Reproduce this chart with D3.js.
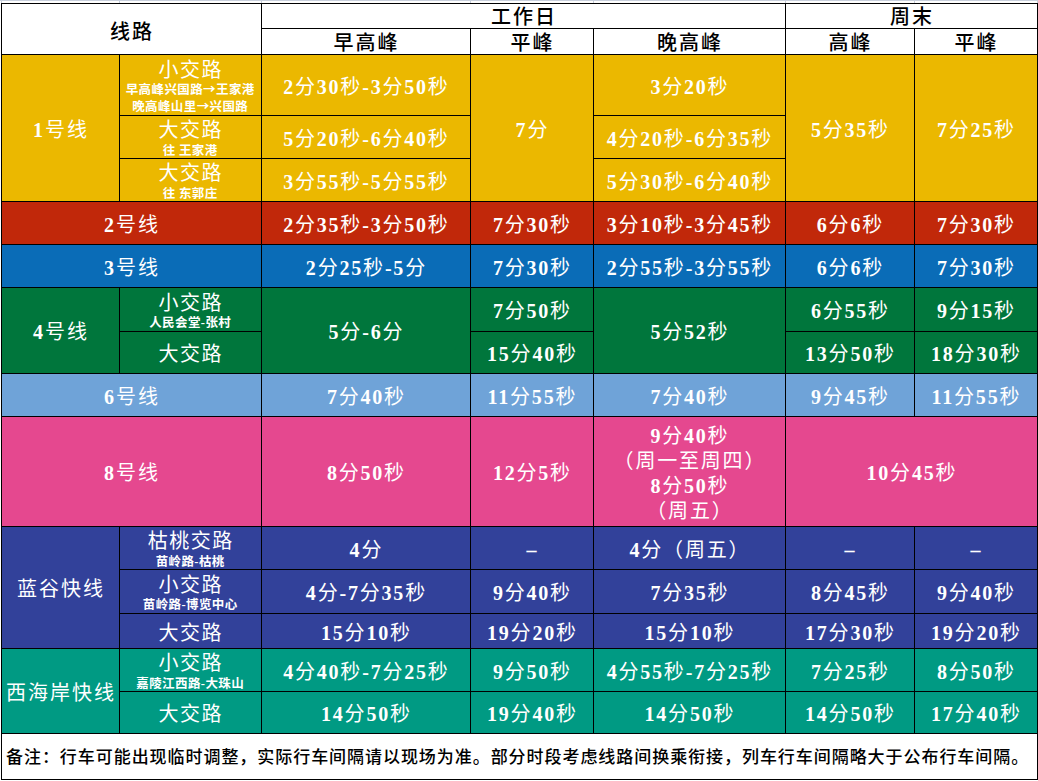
<!DOCTYPE html>
<html><head><meta charset="utf-8">
<script src="https://cdn.jsdelivr.net/npm/d3@7"></script>
<style>
html,body{margin:0;padding:0;background:#fff;}
svg{display:block;}
</style></head><body>
<svg id="chart" width="1038" height="781"></svg>
<script>
// ---------- DATA ----------
const UP = "^", LEFT = "<";   // merged with cell above / cell to the left
const cornerHeader = "线路";
const groupHeaders = ["工作日", "周末"];
const periodHeaders = ["早高峰", "平峰", "晚高峰", "高峰", "平峰"];
const periodGroup = [0, 0, 0, 1, 1];
const lineNames = ["1号线", "2号线", "3号线", "4号线", "6号线", "8号线", "蓝谷快线", "西海岸快线"];
const rowLine = ["1号线", "1号线", "1号线", "2号线", "3号线", "4号线", "4号线", "6号线", "8号线",
  "蓝谷快线", "蓝谷快线", "蓝谷快线", "西海岸快线", "西海岸快线"];
const routeName = ["小交路", "大交路", "大交路", null, null, "小交路", "大交路", null, null,
  "枯桃交路", "小交路", "大交路", "小交路", "大交路"];
const routeNote = [["早高峰兴国路→王家港", "晚高峰山里→兴国路"], ["往 王家港"], ["往 东郭庄"], [], [],
  ["人民会堂-张村"], [], [], [], ["苗岭路-枯桃"], ["苗岭路-博览中心"], [], ["嘉陵江西路-大珠山"], []];
const weekdayMorning = ["2分30秒-3分50秒", "5分20秒-6分40秒", "3分55秒-5分55秒", "2分35秒-3分50秒",
  "2分25秒-5分", "5分-6分", UP, "7分40秒", "8分50秒", "4分", "4分-7分35秒", "15分10秒",
  "4分40秒-7分25秒", "14分50秒"];
const weekdayOffpeak = ["7分", UP, UP, "7分30秒", "7分30秒", "7分50秒", "15分40秒", "11分55秒",
  "12分5秒", "–", "9分40秒", "19分20秒", "9分50秒", "19分40秒"];
const weekdayEvening = ["3分20秒", "4分20秒-6分35秒", "5分30秒-6分40秒", "3分10秒-3分45秒",
  "2分55秒-3分55秒", "5分52秒", UP, "7分40秒", "9分40秒\n（周一至周四）\n8分50秒\n（周五）",
  "4分（周五）", "7分35秒", "15分10秒", "4分55秒-7分25秒", "14分50秒"];
const weekendPeak = ["5分35秒", UP, UP, "6分6秒", "6分6秒", "6分55秒", "13分50秒", "9分45秒",
  "10分45秒", "–", "8分45秒", "17分30秒", "7分25秒", "14分50秒"];
const weekendOffpeak = ["7分25秒", UP, UP, "7分30秒", "7分30秒", "9分15秒", "18分30秒", "11分55秒",
  LEFT, "–", "9分40秒", "19分20秒", "8分50秒", "17分40秒"];
const footNote = "备注：行车可能出现临时调整，实际行车间隔请以现场为准。部分时段考虑线路间换乘衔接，列车行车间隔略大于公布行车间隔。";

// ---------- LAYOUT / STYLE ----------
const lineColors = ["#EBB800", "#C1280A", "#0A6CB7", "#00763C", "#6FA3D8", "#E5488F", "#32419A", "#009A83"];
const colWidths = [118, 142, 209, 123, 192, 129, 123];
const rowHeights = [25, 26, 61, 43, 43, 43, 43, 44, 42, 43, 110, 43, 44, 35, 43, 42, 46];
const X0 = 1, Y0 = 3;
const CJK = "'Noto Sans CJK SC','Noto Sans',sans-serif";
const NUM = "'Liberation Serif','DejaVu Serif',serif";

const colEdges = [X0, ...Array.from(d3.cumsum(colWidths), v => v + X0)];
const rowEdges = [Y0, ...Array.from(d3.cumsum(rowHeights), v => v + Y0)];
const x = d3.scaleOrdinal().domain(d3.range(colEdges.length)).range(colEdges);
const y = d3.scaleOrdinal().domain(d3.range(rowEdges.length)).range(rowEdges);
const color = d3.scaleOrdinal().domain(lineNames).range(lineColors);

const svg = d3.select("#chart");
svg.append("rect").attr("width", 1038).attr("height", 781).attr("fill", "#fff");
// excel gridline remnant at top
svg.append("line").attr("x1", 0).attr("x2", 1038).attr("y1", 0.5).attr("y2", 0.5).attr("stroke", "#c8cfdc");
colEdges.forEach(e => svg.append("line").attr("x1", e + 0.5).attr("x2", e + 0.5).attr("y1", 0).attr("y2", Y0).attr("stroke", "#c8cfdc"));

const gFill = svg.append("g"), gText = svg.append("g"), gBorder = svg.append("g");

function addRuns(t, str, numWeight, cjkWeight) {
  str.split(/([0-9\-–]+)/).filter(s => s.length).forEach(s => {
    const isNum = /^[0-9\-–]+$/.test(s);
    t.append("tspan").attr("font-family", isNum ? NUM : CJK)
      .attr("font-weight", isNum ? numWeight : cjkWeight).text(s);
  });
}

// lines: [{text,size,fill,weight,numWeight,ls,dy}] dy = center offset from cell center
function cell(r0, r1, c0, c1, fill, lines, align) {
  const x0 = x(c0), x1 = x(c1), y0 = y(r0), y1 = y(r1);
  gFill.append("rect").attr("x", x0).attr("y", y0).attr("width", x1 - x0).attr("height", y1 - y0).attr("fill", fill);
  gBorder.append("rect").attr("x", x0 + 0.5).attr("y", y0 + 0.5).attr("width", x1 - x0).attr("height", y1 - y0)
    .attr("fill", "none").attr("stroke", "#000").attr("stroke-width", 1);
  const cy = (y0 + y1) / 2, cx = (x0 + x1) / 2;
  lines.forEach(l => {
    const t = gText.append("text")
      .attr("x", align === "start" ? x0 + 5 : cx + (l.ls || 0) / 2)
      .attr("y", cy + l.dy + l.size * 0.36)
      .attr("text-anchor", align === "start" ? "start" : "middle")
      .attr("font-size", l.size).attr("fill", l.fill)
      .attr("letter-spacing", l.ls || 0);
    addRuns(t, l.text, l.numWeight || "bold", l.weight || "normal");
  });
}

// ---------- HEADER ----------
const hdr = (text, dy) => [{ text, size: 20, fill: "#000", weight: "500", ls: 2, dy }];
cell(0, 2, 0, 2, "#fff", hdr(cornerHeader, 3));
groupHeaders.forEach((g, gi) => {
  const cols = periodGroup.map((p, i) => p === gi ? i : -1).filter(i => i >= 0);
  cell(0, 1, 2 + d3.min(cols), 3 + d3.max(cols), "#fff", hdr(g, 1));
});
periodHeaders.forEach((p, i) => cell(1, 2, 2 + i, 3 + i, "#fff", hdr(p, 2)));

// ---------- LINE NAME + ROUTE COLUMNS ----------
const nRows = rowLine.length, R0 = 2;
lineNames.forEach(name => {
  const idx = d3.range(nRows).filter(i => rowLine[i] === name);
  const a = d3.min(idx), b = d3.max(idx) + 1;
  const hasRoutes = idx.some(i => routeName[i]);
  cell(R0 + a, R0 + b, 0, hasRoutes ? 1 : 2, color(name),
    [{ text: name, size: 20, fill: "#fff", ls: 2, dy: 2 }]);
  if (hasRoutes) {
    idx.forEach(i => {
      const notes = routeNote[i];
      const offs = [0, ...notes.map((n, k) => 20 + 17 * k)];
      const mid = notes.length ? (offs[0] + offs[offs.length - 1]) / 2 : 0;
      const base = notes.length ? 3.5 - mid : 2;
      const lines = [{ text: routeName[i], size: 20, fill: "#fff", ls: 1.5, dy: base }];
      notes.forEach((n, k) => lines.push({ text: n, size: 12.5, fill: "#fff", weight: "bold", ls: 0.4, dy: base + offs[k + 1] }));
      cell(R0 + i, R0 + i + 1, 1, 2, color(name), lines);
    });
  }
});

// ---------- VALUE COLUMNS ----------
const valueCols = [weekdayMorning, weekdayOffpeak, weekdayEvening, weekendPeak, weekendOffpeak];
valueCols.forEach((col, ci) => {
  col.forEach((v, i) => {
    if (v === UP || v === LEFT) return;
    let rs = 1; while (i + rs < nRows && col[i + rs] === UP) rs++;
    let cs = 1; while (ci + cs < valueCols.length && valueCols[ci + cs][i] === LEFT) cs++;
    const parts = v.split("\n");
    const mid = (parts.length - 1) * 25 / 2;
    const lines = parts.map((p, k) => ({ text: p, size: 20, fill: "#fff", ls: 1.8, dy: 2 + (parts.length > 1 ? 0.5 : 0) + k * 25 - mid }));
    cell(R0 + i, R0 + i + rs, 2 + ci, 2 + ci + cs, color(rowLine[i]), lines);
  });
});

// ---------- FOOTNOTE ----------
cell(R0 + nRows, R0 + nRows + 1, 0, colWidths.length, "#fff",
  [{ text: footNote, size: 17, fill: "#000", weight: "500", ls: 0.95, dy: 1 }], "start");
</script>
</body></html>
